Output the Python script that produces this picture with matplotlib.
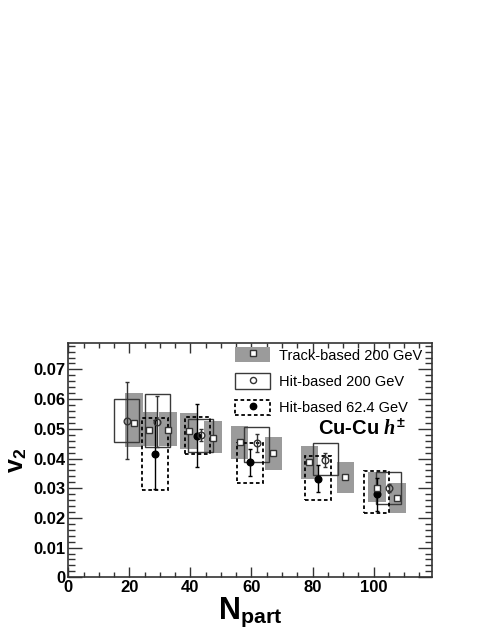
import numpy as np
import matplotlib
matplotlib.use('Agg')
import matplotlib.pyplot as plt
from matplotlib.patches import Patch
from matplotlib.lines import Line2D
from matplotlib.legend_handler import HandlerTuple

plt.rcParams['font.family'] = ['Liberation Sans', 'DejaVu Sans']
plt.rcParams['mathtext.fontset'] = 'custom'
plt.rcParams['mathtext.rm'] = 'Liberation Sans:bold'
plt.rcParams['mathtext.bf'] = 'Liberation Sans:bold'
plt.rcParams['mathtext.it'] = 'Liberation Serif:italic:bold'

# Track-based 200 GeV (квадраты, серые систематические боксы)
x_track = [21.6, 26.4, 32.7, 39.4, 47.4, 56.1, 67.2, 79.0, 90.8, 101.2, 107.8]
v2_track = [0.0520, 0.0496, 0.0497, 0.0493, 0.0468, 0.0456, 0.0420, 0.0389, 0.0337, 0.0299, 0.0266]
sys_lo_track = [0.0440, 0.0443, 0.0443, 0.0432, 0.0417, 0.0397, 0.0361, 0.0331, 0.0283, 0.0255, 0.0215]
sys_hi_track = [0.0620, 0.0556, 0.0556, 0.0554, 0.0527, 0.0509, 0.0473, 0.0442, 0.0389, 0.0356, 0.0317]

# Hit-based 200 GeV (открытые кружки, сплошные рамки)
x_hit200 = [19.1, 29.2, 43.4, 61.7, 84.2, 105.0]
v2_hit200 = [0.0527, 0.0524, 0.0478, 0.0453, 0.0395, 0.0300]
err_hit200 = [0.0130, 0.0085, 0.0020, 0.0030, 0.0023, 0.0014]
sys_lo_hit200 = [0.0457, 0.0438, 0.0423, 0.0389, 0.0344, 0.0246]
sys_hi_hit200 = [0.0600, 0.0616, 0.0532, 0.0507, 0.0451, 0.0356]

# Hit-based 62.4 GeV (закрашенные кружки, пунктирные рамки)
x_hit62 = [28.4, 42.3, 59.5, 81.9, 101.0]
v2_hit62 = [0.0414, 0.0477, 0.0387, 0.0332, 0.0279]
err_hit62 = [0.0116, 0.0105, 0.0045, 0.0045, 0.0056]
sys_lo_hit62 = [0.0294, 0.0415, 0.0319, 0.0260, 0.0215]
sys_hi_hit62 = [0.0537, 0.0541, 0.0453, 0.0408, 0.0359]

gray = '#9b9b9b'
dash = (0, (2.0, 1.5))

fig = plt.figure(figsize=(4.91, 6.35), dpi=100)
ax = fig.add_axes([0.139, 0.0909, 0.740, 0.3694])

# систематические боксы
lo = np.array(sys_lo_track); hi = np.array(sys_hi_track)
ax.bar(x_track, hi - lo, bottom=lo, width=5.8, color=gray, linewidth=0, zorder=1)
lo = np.array(sys_lo_hit200); hi = np.array(sys_hi_hit200)
ax.bar(x_hit200, hi - lo, bottom=lo, width=8.2, fill=False, edgecolor='#3a3a3a',
       linewidth=1.0, zorder=2)
lo = np.array(sys_lo_hit62); hi = np.array(sys_hi_hit62)
ax.bar(x_hit62, hi - lo, bottom=lo, width=8.4, fill=False, edgecolor='black',
       linewidth=1.3, linestyle=dash, zorder=2)

# статистические ошибки и точки
ax.errorbar(x_hit62, v2_hit62, yerr=err_hit62, fmt='o', color='black', ms=4.8,
            elinewidth=1.0, capsize=1.5, zorder=4)
ax.errorbar(x_hit200, v2_hit200, yerr=err_hit200, fmt='o', mfc='none', mec='#333333',
            ecolor='#333333', ms=4.8, mew=1.0, elinewidth=1.0, capsize=1.5, zorder=4)
ax.plot(x_track, v2_track, 's', mfc='white', mec='#333333', ms=5.0, mew=1.0,
        linestyle='none', zorder=5)

ax.set_xlim(0, 119)
ax.set_ylim(0, 0.079)
ax.set_xticks(np.arange(0, 101, 20))
ax.set_xticks(np.arange(0, 119, 5), minor=True)
ax.set_yticks(np.arange(0, 0.0701, 0.01))
ax.set_yticks(np.arange(0, 0.079, 0.002), minor=True)
ax.set_yticklabels(['0'] + ['%.2f' % v for v in np.arange(0.01, 0.0701, 0.01)])
ax.set_xticklabels([str(v) for v in range(0, 101, 20)])

ax.tick_params(which='both', direction='in', top=True, right=True, colors='#333333',
               labelcolor='black', labelsize=12, pad=2)
ax.tick_params(axis='x', which='major', length=7, width=1.0)
ax.tick_params(axis='x', which='minor', length=3.5, width=1.0)
ax.tick_params(axis='y', which='major', length=10, width=1.0)
ax.tick_params(axis='y', which='minor', length=5, width=1.0)
for lab in ax.get_xticklabels() + ax.get_yticklabels():
    lab.set_fontweight('bold')
for sp in ax.spines.values():
    sp.set_color('#333333')
    sp.set_linewidth(1.2)

ax.set_ylabel(r'$\mathrm{v}_{2}$', fontsize=18, labelpad=3)
ax.set_xlabel(r'$\mathrm{N}_{\mathrm{part}}$', fontsize=22, labelpad=0)

# легенда
h_track = (Patch(facecolor=gray, edgecolor='none'),
           Line2D([], [], marker='s', ms=4.8, mfc='white', mec='#333333', ls='none'))
h_hit200 = (Patch(facecolor='white', edgecolor='#3a3a3a', linewidth=1.0),
            Line2D([], [], marker='o', ms=4.4, mfc='white', mec='#333333', ls='none'))
h_hit62 = (Patch(facecolor='white', edgecolor='black', linewidth=1.3, linestyle=dash),
           Line2D([], [], marker='o', ms=4.6, color='black', ls='none'))
ax.legend([h_track, h_hit200, h_hit62],
          ['Track-based 200 GeV', 'Hit-based 200 GeV', 'Hit-based 62.4 GeV'],
          handler_map={tuple: HandlerTuple(ndivide=1)},
          loc='upper left', bbox_to_anchor=(0.459, 0.982), frameon=False,
          fontsize=10.5, handlelength=2.4, handleheight=1.25,
          handletextpad=0.6, labelspacing=0.74, borderpad=0, borderaxespad=0)

ax.text(0.687, 0.633, r'Cu-Cu $h^{\pm}$', transform=ax.transAxes, fontsize=14.5,
        fontweight='bold', va='center', ha='left')

fig.savefig('out.png', dpi=100)
